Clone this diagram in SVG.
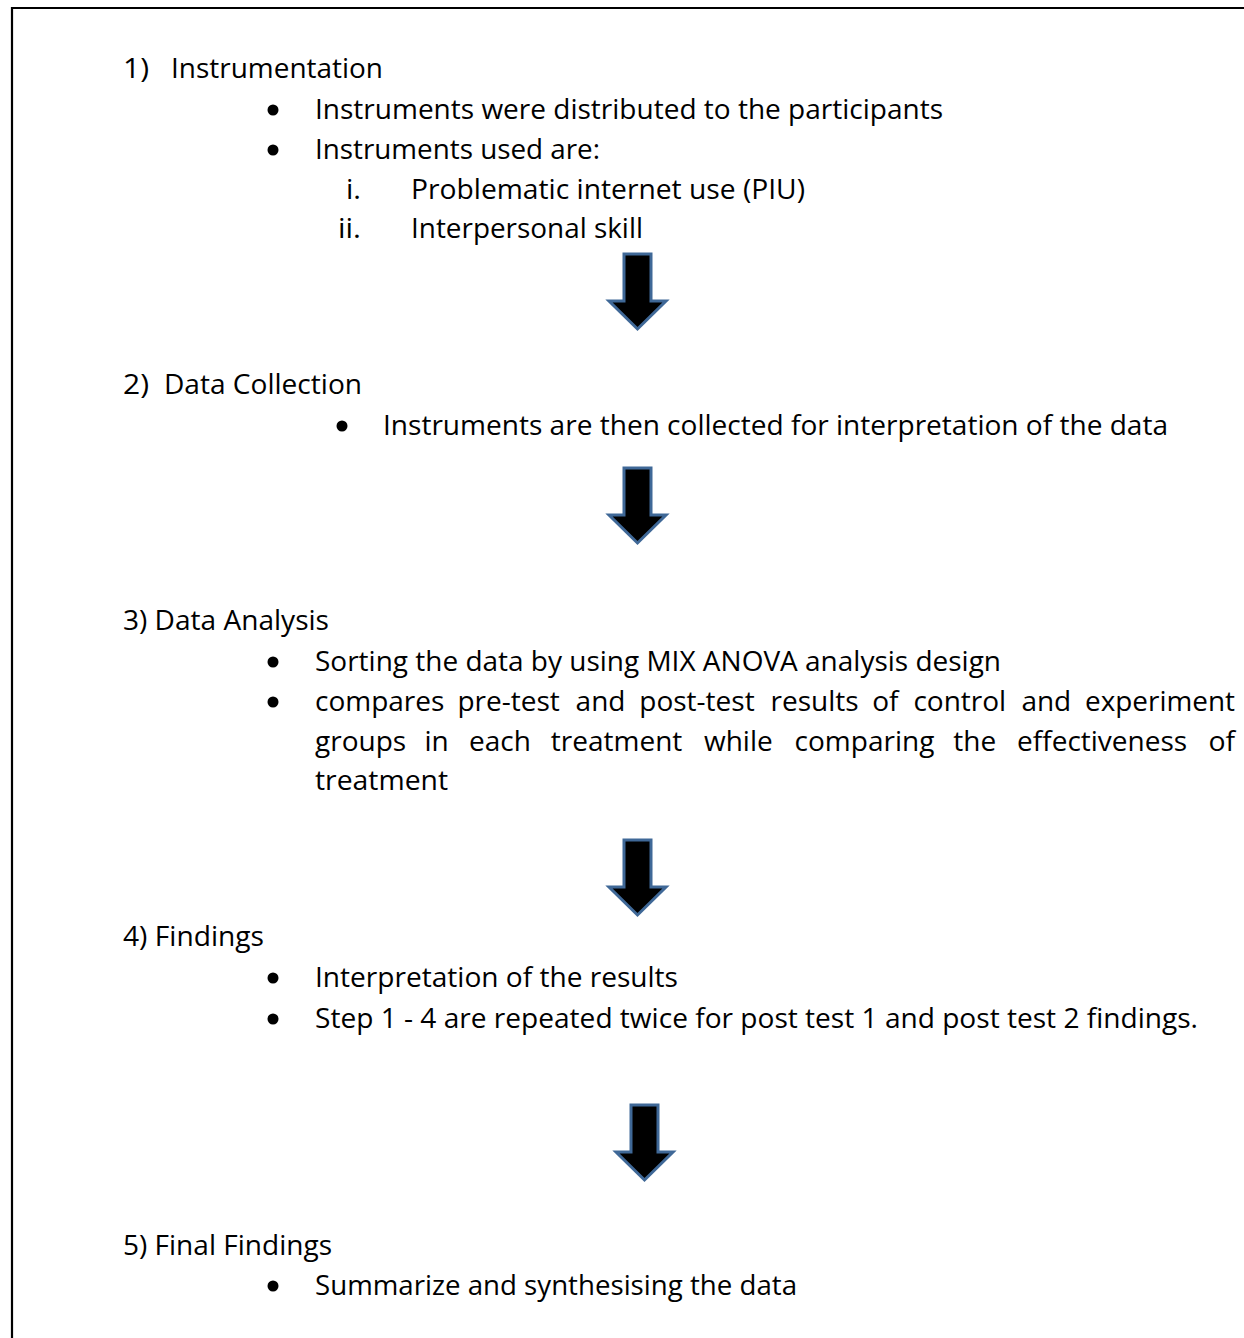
<svg xmlns="http://www.w3.org/2000/svg" width="1244" height="1338" viewBox="0 0 1244 1338">
<style>
.t{font-family:"Open Sans","Noto Sans",sans-serif;font-size:28px;fill:#000}
.e{text-anchor:end}
.b{fill:#000}
.frame{fill:none;stroke:#000;stroke-width:2.2}
.arr{fill:#000;stroke:#3F6897;stroke-width:3;stroke-linejoin:miter}
</style>
<defs>
<polygon id="arrow" class="arr" points="-13.5,0 13.5,0 13.5,47 28.5,47 0,75 -28.5,47 -13.5,47"/>
</defs>
<rect width="1244" height="1338" fill="#fff"/>
<path class="frame" d="M12,1338 V8 H1244"/>

<g id="step1">
<text class="t" x="123" y="78" textLength="26" lengthAdjust="spacingAndGlyphs">1)</text>
<text class="t" x="171" y="78" textLength="212" lengthAdjust="spacingAndGlyphs">Instrumentation</text>
<circle class="b" cx="273" cy="110" r="5.5"/>
<text class="t" x="315" y="119" textLength="628" lengthAdjust="spacingAndGlyphs">Instruments were distributed to the participants</text>
<circle class="b" cx="273" cy="150" r="5.5"/>
<text class="t" x="315" y="159" textLength="285" lengthAdjust="spacingAndGlyphs">Instruments used are:</text>
<text class="t e" x="361" y="199" textLength="15" lengthAdjust="spacingAndGlyphs">i.</text>
<text class="t" x="411" y="199" textLength="394" lengthAdjust="spacingAndGlyphs">Problematic internet use (PIU)</text>
<text class="t e" x="361" y="238" textLength="23" lengthAdjust="spacingAndGlyphs">ii.</text>
<text class="t" x="411" y="238" textLength="232" lengthAdjust="spacingAndGlyphs">Interpersonal skill</text>
</g>

<g id="step2">
<text class="t" x="123" y="394" textLength="26" lengthAdjust="spacingAndGlyphs">2)</text>
<text class="t" x="164" y="394" textLength="198" lengthAdjust="spacingAndGlyphs">Data Collection</text>
<circle class="b" cx="342" cy="426" r="5.5"/>
<text class="t" x="383" y="435" textLength="785" lengthAdjust="spacingAndGlyphs">Instruments are then collected for interpretation of the data</text>
</g>

<g id="step3">
<text class="t" x="123" y="630" textLength="206" lengthAdjust="spacingAndGlyphs">3) Data Analysis</text>
<circle class="b" cx="273" cy="662" r="5.5"/>
<text class="t" x="315" y="671" textLength="686" lengthAdjust="spacingAndGlyphs">Sorting the data by using MIX ANOVA analysis design</text>
<circle class="b" cx="273" cy="702" r="5.5"/>
<g>
<text class="t" x="315" y="711">compares</text>
<text class="t" x="457.4" y="711">pre-test</text>
<text class="t" x="575.6" y="711">and</text>
<text class="t" x="639.3" y="711">post-test</text>
<text class="t" x="770.5" y="711">results</text>
<text class="t" x="872.2" y="711">of</text>
<text class="t" x="913.4" y="711">control</text>
<text class="t" x="1021.4" y="711">and</text>
<text class="t" x="1085" y="711" textLength="150" lengthAdjust="spacingAndGlyphs">experiment</text>
</g>
<g>
<text class="t" x="315" y="751">groups</text>
<text class="t" x="424.5" y="751">in</text>
<text class="t" x="469" y="751">each</text>
<text class="t" x="550.8" y="751">treatment</text>
<text class="t" x="704" y="751">while</text>
<text class="t" x="794.6" y="751">comparing</text>
<text class="t" x="953.3" y="751">the</text>
<text class="t" x="1017.1" y="751">effectiveness</text>
<text class="t" x="1208.4" y="751" textLength="26.6" lengthAdjust="spacingAndGlyphs">of</text>
</g>
<text class="t" x="315" y="790" textLength="133" lengthAdjust="spacingAndGlyphs">treatment</text>
</g>

<g id="step4">
<text class="t" x="123" y="946" textLength="141" lengthAdjust="spacingAndGlyphs">4) Findings</text>
<circle class="b" cx="273" cy="978" r="5.5"/>
<text class="t" x="315" y="987" textLength="363" lengthAdjust="spacingAndGlyphs">Interpretation of the results</text>
<circle class="b" cx="273" cy="1019" r="5.5"/>
<text class="t" x="315" y="1028" textLength="883" lengthAdjust="spacingAndGlyphs">Step 1 - 4 are repeated twice for post test 1 and post test 2 findings.</text>
</g>

<g id="step5">
<text class="t" x="123" y="1255" textLength="209" lengthAdjust="spacingAndGlyphs">5) Final Findings</text>
<circle class="b" cx="273" cy="1286" r="5.5"/>
<text class="t" x="315" y="1295" textLength="482" lengthAdjust="spacingAndGlyphs">Summarize and synthesising the data</text>
</g>

<g id="connectors">
<use href="#arrow" x="637.5" y="254"/>
<use href="#arrow" x="637.5" y="468"/>
<use href="#arrow" x="637.5" y="840"/>
<use href="#arrow" x="644.5" y="1105"/>
</g>
</svg>
